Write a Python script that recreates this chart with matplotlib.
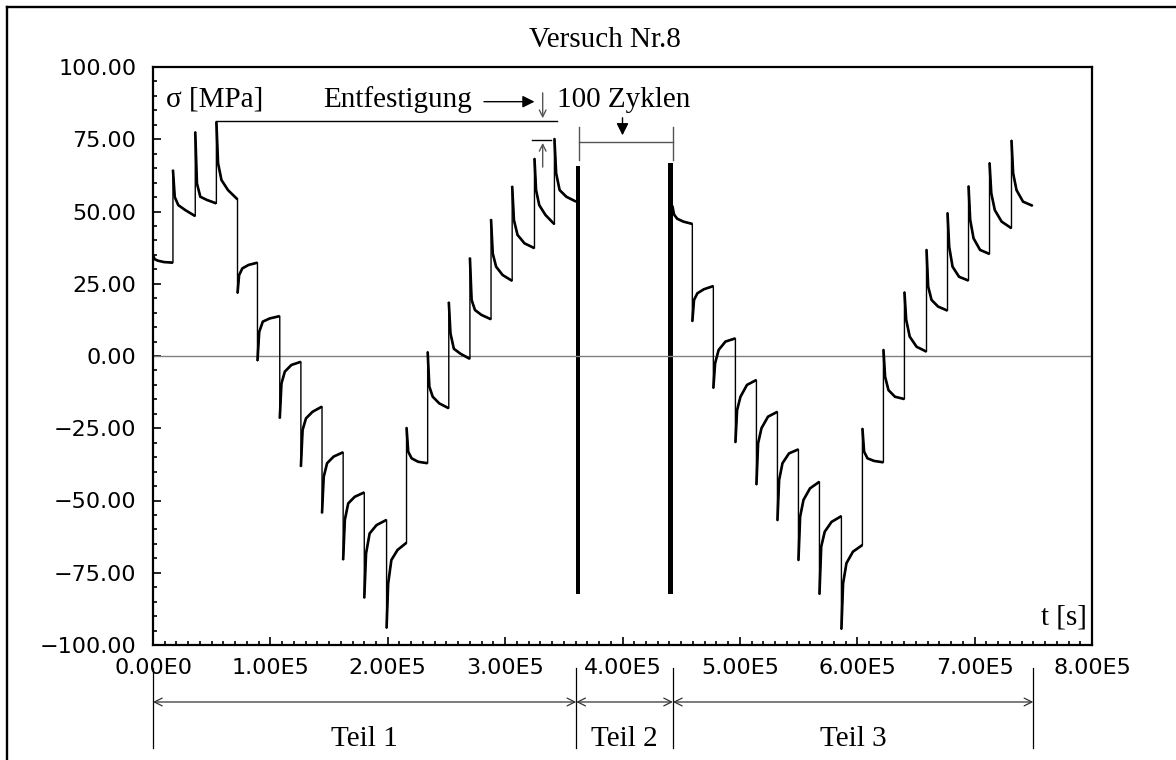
import numpy as np
import matplotlib.pyplot as plt
from matplotlib.lines import Line2D
from matplotlib.ticker import MultipleLocator

# stress values read at these fractions of every hold period
hold_frac = [0.0, 0.08, 0.24, 0.55, 1.0]

# Teil 1: hold start times [s] (last entry = end of Teil 1)
teil1_t = [0, 1.7e4, 3.6e4, 5.4e4, 7.2e4, 8.9e4, 1.08e5, 1.26e5, 1.44e5, 1.62e5,
           1.80e5, 1.99e5, 2.16e5, 2.34e5, 2.52e5, 2.70e5, 2.88e5, 3.06e5, 3.25e5,
           3.42e5, 3.605e5]
teil1_s = [
    [35.0, 33.5, 33.0, 32.5, 32.3],
    [64.4, 55.0, 52.2, 50.5, 48.4],
    [77.6, 59.7, 55.1, 54.0, 52.8],
    [81.1, 66.7, 60.9, 57.4, 54.2],
    [21.7, 28.0, 30.3, 31.5, 32.3],
    [-1.7, 8.4, 11.9, 13.0, 13.8],
    [-21.6, -9.5, -5.4, -3.1, -2.0],
    [-38.3, -25.6, -21.6, -19.3, -17.5],
    [-54.4, -41.8, -37.1, -34.8, -33.3],
    [-70.6, -56.7, -51.0, -48.7, -47.2],
    [-83.8, -68.3, -61.4, -58.5, -56.7],
    [-94.2, -78.7, -70.6, -67.1, -64.6],
    [-24.7, -33.1, -35.4, -36.6, -37.1],
    [1.5, -10.6, -14.1, -16.4, -18.1],
    [18.7, 7.8, 2.5, 0.8, -1.0],
    [34.0, 19.4, 15.9, 14.2, 12.7],
    [47.3, 35.5, 30.9, 28.0, 26.0],
    [58.8, 47.0, 41.9, 39.0, 37.3],
    [68.4, 57.4, 52.2, 48.8, 45.6],
    [75.3, 63.2, 57.4, 55.1, 53.4],
]

# Teil 2: 100 cycles, drawn as two solid blocks
zyklen_t = [(3.603e5, 3.637e5), (4.385e5, 4.427e5)]
zyklen_max = [65.8, 66.8]
zyklen_min = [-82.3, -82.3]

# Teil 3
teil3_t = [4.425e5, 4.595e5, 4.774e5, 4.962e5, 5.141e5, 5.32e5, 5.499e5, 5.678e5,
           5.865e5, 6.044e5, 6.223e5, 6.402e5, 6.59e5, 6.769e5, 6.948e5, 7.127e5,
           7.314e5, 7.493e5]
teil3_s = [
    [52.0, 49.0, 47.5, 46.5, 45.7],
    [11.9, 19.4, 21.7, 23.1, 24.2],
    [-11.2, -2.5, 2.1, 5.0, 6.1],
    [-30.0, -18.7, -14.1, -10.0, -8.3],
    [-44.6, -30.2, -25.0, -21.0, -19.3],
    [-57.0, -42.9, -37.1, -33.7, -32.3],
    [-70.8, -55.6, -49.8, -45.8, -43.5],
    [-82.5, -66.0, -60.8, -57.4, -55.4],
    [-94.6, -78.7, -71.7, -67.7, -65.4],
    [-25.0, -33.1, -35.4, -36.3, -36.8],
    [2.3, -7.2, -11.8, -14.1, -14.9],
    [22.2, 12.5, 6.7, 3.2, 1.5],
    [36.9, 24.0, 19.4, 17.1, 15.7],
    [49.6, 37.8, 30.9, 27.4, 26.1],
    [58.9, 47.1, 40.7, 36.7, 35.3],
    [66.9, 56.3, 50.5, 46.5, 44.2],
    [74.7, 63.2, 57.4, 53.4, 52.0],
]

teil_grenzen = [0, 3.606e5, 4.43e5, 7.5e5]
teil_labels = ["Teil 1", "Teil 2", "Teil 3"]

x_ticks = [0, 1e5, 2e5, 3e5, 4e5, 5e5, 6e5, 7e5, 8e5]
x_ticklabels = ["0.00E0", "1.00E5", "2.00E5", "3.00E5", "4.00E5",
                "5.00E5", "6.00E5", "7.00E5", "8.00E5"]
y_ticks = [-100, -75, -50, -25, 0, 25, 50, 75, 100]
y_ticklabels = ["\u2212100.00", "\u221275.00", "\u221250.00", "\u221225.00", "0.00",
                "25.00", "50.00", "75.00", "100.00"]

SERIF = "Liberation Serif"


def holds(t_starts, vals):
    segs = []
    for i, v in enumerate(vals):
        t0, t1 = t_starts[i], t_starts[i + 1]
        segs.append(([t0 + f * (t1 - t0) for f in hold_frac], v))
    return segs


def plot_trace(ax, t_starts, vals):
    segs = holds(t_starts, vals)
    t_all = [t for s in segs for t in s[0]]
    s_all = [v for s in segs for v in s[1]]
    # thin jumps, slightly thicker (noisy) hold curves
    ax.plot(t_all, s_all, color="k", lw=1.0)
    for t, s in segs:
        ax.plot(t, s, color="k", lw=1.9, solid_capstyle="butt", solid_joinstyle="round")


def format_axis(ax):
    ax.set_xlim(0, 8e5)
    ax.set_ylim(-100, 100)
    for sp in ax.spines.values():
        sp.set_linewidth(1.6)
    ax.set_xticks(x_ticks)
    ax.set_xticklabels(x_ticklabels)
    ax.set_yticks(y_ticks)
    ax.set_yticklabels(y_ticklabels)
    ax.xaxis.set_minor_locator(MultipleLocator(1e4))
    ax.yaxis.set_minor_locator(MultipleLocator(5))
    ax.tick_params(which="both", direction="in", top=False, right=False, width=1.2,
                   labelsize=16)
    ax.tick_params(which="major", length=6)
    ax.tick_params(which="minor", length=3)
    ax.tick_params(axis="x", pad=9)
    ax.tick_params(axis="y", pad=12)


fig = plt.figure(figsize=(11.76, 7.6), dpi=100)
ax = fig.add_axes([153 / 1176, 115 / 760, 939 / 1176, 578 / 760])
format_axis(ax)

ax.axhline(0, color="#808080", lw=1.0)
plot_trace(ax, teil1_t, teil1_s)
plot_trace(ax, teil3_t, teil3_s)
for (a, b), hi, lo in zip(zyklen_t, zyklen_max, zyklen_min):
    ax.fill_between([a, b], [lo, lo], [hi, hi], color="k", lw=0)

# texts
ax.text(1.1e4, 86.3, "\u03c3 [MPa]", family=SERIF, fontsize=21, va="baseline")
ax.text(2.72e5, 86.3, "Entfestigung", family=SERIF, fontsize=21, ha="right", va="baseline")
ax.text(3.444e5, 86.3, "100 Zyklen", family=SERIF, fontsize=21, va="baseline")
ax.text(7.96e5, -93.0, "t [s]", family=SERIF, fontsize=21, ha="right", va="baseline")
fig.text(605 / 1176, 1 - 47 / 760, "Versuch Nr.8", family=SERIF, fontsize=21,
         ha="center", va="baseline")

# Entfestigung markers
ax.annotate("", xy=(3.274e5, 88.0), xytext=(2.796e5, 88.0),
            arrowprops=dict(arrowstyle="-|>", color="k", lw=1.0, mutation_scale=18))
ax.plot([5.4e4, 3.44e5], [81.3, 81.3], color="k", lw=1.0)
ax.plot([3.23e5, 3.39e5], [74.7, 74.7], color="k", lw=1.0)
ax.annotate("", xy=(3.32e5, 81.3), xytext=(3.32e5, 92.0),
            arrowprops=dict(arrowstyle="->", color="#555555", lw=1.0, mutation_scale=12))
ax.annotate("", xy=(3.32e5, 74.7), xytext=(3.32e5, 64.4),
            arrowprops=dict(arrowstyle="->", color="#555555", lw=1.0, mutation_scale=12))

# 100 Zyklen bracket
ax.annotate("", xy=(4.0e5, 75.4), xytext=(4.0e5, 83.4),
            arrowprops=dict(arrowstyle="-|>", color="k", lw=1.0, mutation_scale=18))
ax.plot([3.63e5, 4.43e5], [74.2, 74.2], color="#555555", lw=1.0)
for xb in [3.63e5, 4.43e5]:
    ax.plot([xb, xb], [67.8, 79.2], color="#555555", lw=1.0)

# Teil 1 / 2 / 3 below the axis
trans = ax.get_xaxis_transform()
for xb in teil_grenzen:
    ax.plot([xb, xb], [-0.040, -0.178], color="k", lw=0.9, transform=trans, clip_on=False)
for i, lab in enumerate(teil_labels):
    a, b = teil_grenzen[i], teil_grenzen[i + 1]
    ax.annotate("", xy=(a, -0.0986), xytext=(b, -0.0986), xycoords=trans, textcoords=trans,
                arrowprops=dict(arrowstyle="<->", color="#333333", lw=0.9,
                                mutation_scale=14, shrinkA=0, shrinkB=0))
    ax.text((a + b) / 2, -0.175, lab, transform=trans, family=SERIF, fontsize=21,
            ha="center", va="baseline")

# frame round the figure (top and left edge visible)
fig.add_artist(Line2D([7 / 1176, 7 / 1176], [0, 1 - 7 / 760], transform=fig.transFigure,
                      color="k", lw=1.7))
fig.add_artist(Line2D([7 / 1176, 1], [1 - 7 / 760, 1 - 7 / 760], transform=fig.transFigure,
                      color="k", lw=1.7))

fig.savefig("out.png", dpi=100, facecolor="white")
